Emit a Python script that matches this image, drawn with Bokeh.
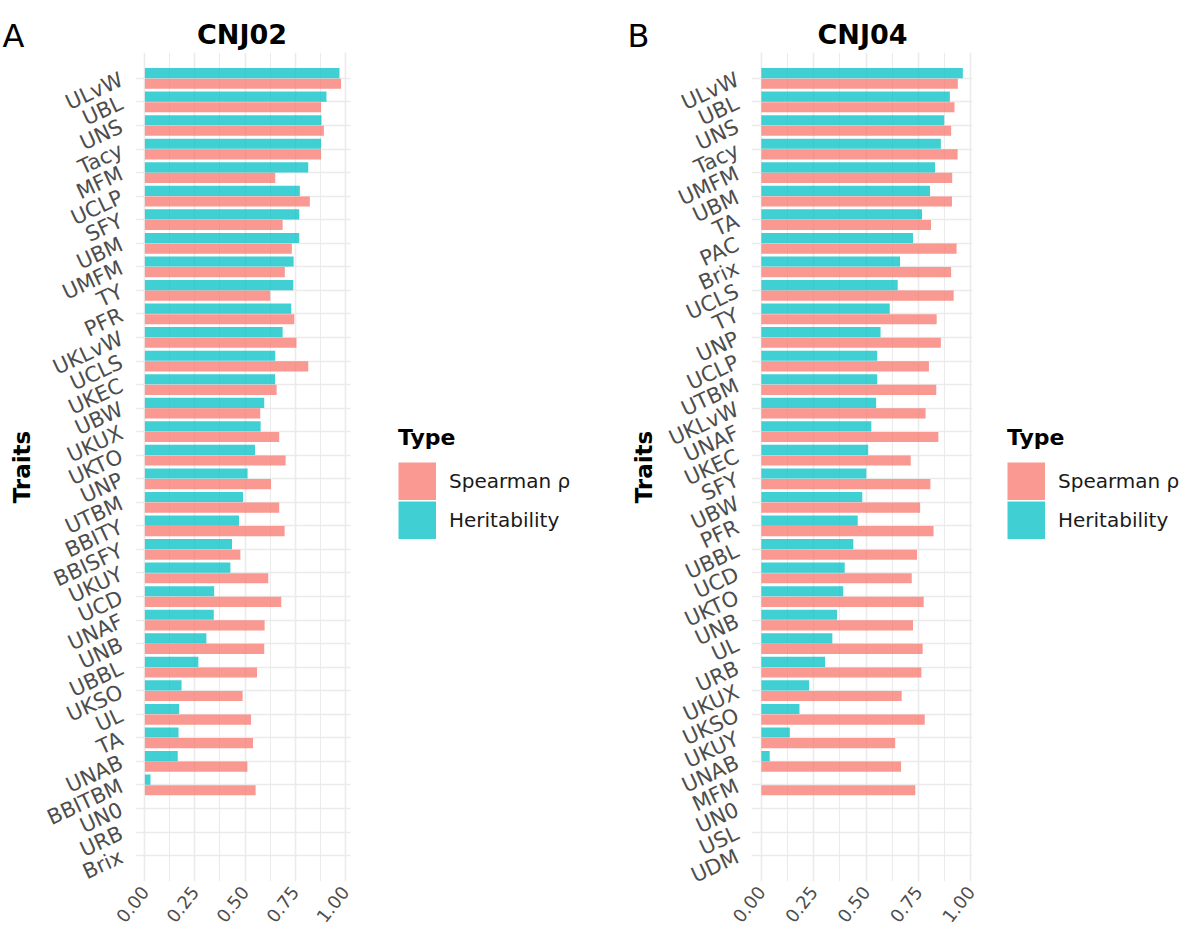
import math
from bokeh.plotting import figure
from bokeh.models import (ColumnDataSource, FactorRange, Range1d, FixedTicker, Legend,
                          LegendItem, Label)
from bokeh.transform import dodge
from bokeh.layouts import row, column
from bokeh.embed import file_html
from bokeh.resources import INLINE

NA = None

# ---------------- data ----------------
a_traits = ["ULvW", "UBL", "UNS", "Tacy", "MFM", "UCLP", "SFY", "UBM", "UMFM", "TY", "PFR",
            "UKLvW", "UCLS", "UKEC", "UBW", "UKUX", "UKTO", "UNP", "UTBM", "BBITY", "BBISFY",
            "UKUY", "UCD", "UNAF", "UNB", "UBBL", "UKSO", "UL", "TA", "UNAB", "BBITBM",
            "UN0", "URB", "Brix"]
a_spearman = [0.980, 0.880, 0.894, 0.880, 0.651, 0.824, 0.688, 0.734, 0.699, 0.626, 0.746,
              0.757, 0.816, 0.658, 0.576, 0.671, 0.703, 0.630, 0.671, 0.698, 0.477,
              0.616, 0.681, 0.598, 0.596, 0.560, 0.488, 0.530, 0.540, 0.512, 0.553,
              NA, NA, NA]
a_heritability = [0.972, 0.907, 0.882, 0.880, 0.816, 0.774, 0.771, 0.771, 0.743, 0.741, 0.731,
                  0.688, 0.651, 0.650, 0.596, 0.578, 0.550, 0.513, 0.490, 0.470, 0.435,
                  0.427, 0.346, 0.344, 0.307, 0.267, 0.183, 0.171, 0.168, 0.164, 0.028,
                  NA, NA, NA]

b_traits = ["ULvW", "UBL", "UNS", "Tacy", "UMFM", "UBM", "TA", "PAC", "Brix", "UCLS", "TY",
            "UNP", "UCLP", "UTBM", "UKLvW", "UNAF", "UKEC", "SFY", "UBW", "PFR", "UBBL",
            "UCD", "UKTO", "UNB", "UL", "URB", "UKUX", "UKSO", "UKUY", "UNAB", "MFM",
            "UN0", "USL", "UDM"]
b_spearman = [0.938, 0.922, 0.906, 0.937, 0.911, 0.910, 0.810, 0.932, 0.906, 0.918, 0.837,
              0.857, 0.800, 0.835, 0.784, 0.845, 0.713, 0.807, 0.758, 0.822, 0.743,
              0.718, 0.775, 0.724, 0.770, 0.764, 0.670, 0.780, 0.639, 0.667, 0.735,
              NA, NA, NA]
b_heritability = [0.962, 0.900, 0.873, 0.857, 0.829, 0.805, 0.767, 0.724, 0.662, 0.651, 0.613,
                  0.569, 0.553, 0.553, 0.548, 0.525, 0.510, 0.501, 0.482, 0.460, 0.439,
                  0.398, 0.391, 0.361, 0.339, 0.304, 0.228, 0.182, 0.136, 0.040, NA,
                  NA, NA, NA]

x_ticks = [0.0, 0.25, 0.5, 0.75, 1.0]
x_minor = [0.125, 0.375, 0.625, 0.875]
x_tick_labels = ["0.00", "0.25", "0.50", "0.75", "1.00"]

series_names = ["Spearman ρ", "Heritability"]
series_colors = ["#F8766D", "#00BFC4"]

FONT = "DejaVu Sans"
GRID = "#EBEBEB"
TXT = "#4D4D4D"
TOP_H = 52
H = 931 - TOP_H


def header(width, tag, tag_x, title, title_x):
    """Strip above a panel holding the panel tag and the panel title."""
    f = figure(width=width, height=TOP_H, output_backend="svg", toolbar_location=None,
               x_range=Range1d(0, width), y_range=Range1d(0, TOP_H), min_border=0,
               x_axis_location=None, y_axis_location=None)
    f.outline_line_color = None
    f.xgrid.visible = False
    f.ygrid.visible = False
    f.add_layout(Label(x=tag_x, y=17, text=tag, text_font=FONT, text_font_size="32px",
                       text_baseline="alphabetic", text_align="left", text_color="black"))
    f.add_layout(Label(x=title_x, y=18.3, text=title, text_font=FONT, text_font_size="27px",
                       text_font_style="bold", text_baseline="alphabetic",
                       text_align="center", text_color="black"))
    return f


def panel(traits, spear, herit, x_end, left, frame_w, label_standoff):
    p = figure(width=left + frame_w + 5, height=H, output_backend="svg",
               toolbar_location=None,
               y_range=FactorRange(factors=list(reversed(traits)), range_padding=0.6,
                                   range_padding_units="absolute"),
               x_range=Range1d(-0.047, x_end),
               min_border_left=left, min_border_right=5, min_border_top=0,
               min_border_bottom=30)
    p.outline_line_color = None

    def src(vals):
        t = [tr for tr, v in zip(traits, vals) if v is not None]
        v = [v for v in vals if v is not None]
        return ColumnDataSource(dict(trait=t, value=v))

    p.hbar(y=dodge("trait", -0.225, range=p.y_range), right="value", left=0,
           height=0.43, source=src(spear), fill_color=series_colors[0],
           fill_alpha=0.75, line_color=None)
    p.hbar(y=dodge("trait", 0.225, range=p.y_range), right="value", left=0,
           height=0.43, source=src(herit), fill_color=series_colors[1],
           fill_alpha=0.75, line_color=None)

    p.xaxis.ticker = FixedTicker(ticks=x_ticks, minor_ticks=x_minor)
    p.xaxis.major_label_overrides = {t: l for t, l in zip(x_ticks, x_tick_labels)}
    p.xaxis.major_label_orientation = math.radians(52)
    p.yaxis.major_label_orientation = math.radians(25)
    for ax in (p.xaxis[0], p.yaxis[0]):
        ax.axis_line_color = None
        ax.major_tick_line_color = None
        ax.minor_tick_line_color = None
        ax.major_label_text_font = FONT
        ax.major_label_text_color = TXT
    p.xaxis.axis_label = None
    p.xaxis.major_label_text_font_size = "18px"
    p.xaxis.major_label_text_line_height = 1.0
    p.yaxis.major_label_text_font_size = "21px"
    p.xaxis.major_label_standoff = 1
    p.yaxis.major_label_standoff = 8
    p.yaxis.axis_label = "Traits"
    p.yaxis.axis_label_text_font = FONT
    p.yaxis.axis_label_text_font_style = "bold"
    p.yaxis.axis_label_text_font_size = "23px"
    p.yaxis.axis_label_text_color = "black"
    p.yaxis.axis_label_standoff = label_standoff

    p.xgrid.grid_line_color = GRID
    p.xgrid.grid_line_width = 1.6
    p.xgrid.minor_grid_line_color = GRID
    p.xgrid.minor_grid_line_width = 1.1
    p.ygrid.grid_line_color = GRID
    p.ygrid.grid_line_width = 1.6
    return p


def legend_fig(width, gx):
    f = figure(width=width, height=H, output_backend="svg", toolbar_location=None,
               x_range=Range1d(0, 1), y_range=Range1d(0, 1), min_border=0,
               x_axis_location=None, y_axis_location=None)
    f.outline_line_color = None
    f.xgrid.visible = False
    f.ygrid.visible = False
    # swatch renderers: their lines lie outside the visible range, only the legend shows them
    k_s = f.line(x=[5, 6], y=[5, 5], line_color=series_colors[0], line_alpha=0.75,
                 line_width=38)
    k_h = f.line(x=[5, 6], y=[6, 6], line_color=series_colors[1], line_alpha=0.75,
                 line_width=38)
    legend = Legend(items=[LegendItem(label=series_names[0], renderers=[k_s]),
                           LegendItem(label=series_names[1], renderers=[k_h])],
                    title="Type", location=(gx, 342))
    legend.title_text_font = FONT
    legend.title_text_font_style = "bold"
    legend.title_text_font_size = "22px"
    legend.title_text_color = "black"
    legend.title_standoff = 12
    legend.label_text_font = FONT
    legend.label_text_font_size = "20px"
    legend.label_text_color = "#1A1A1A"
    legend.glyph_width = 38
    legend.glyph_height = 38
    legend.spacing = 1
    legend.padding = 0
    legend.margin = 0
    legend.label_standoff = 13
    legend.border_line_color = None
    legend.background_fill_alpha = 0
    f.add_layout(legend, "center")
    return f


pA = panel(a_traits, a_spearman, a_heritability, 1.027, left=135, frame_w=215,
           label_standoff=1)
lA = legend_fig(258, 43)
pB = panel(b_traits, b_spearman, b_heritability, 1.008, left=138, frame_w=221,
           label_standoff=0)
lB = legend_fig(208, 30)

hA = header(355 + 258, "A", 2, "CNJ02", 241.5)
hB = header(364 + 208, "B", 14, "CNJ04", 249)

layout = column(row(hA, hB), row(pA, lA, pB, lB))
open("out.html", "w").write(file_html(layout, INLINE))
